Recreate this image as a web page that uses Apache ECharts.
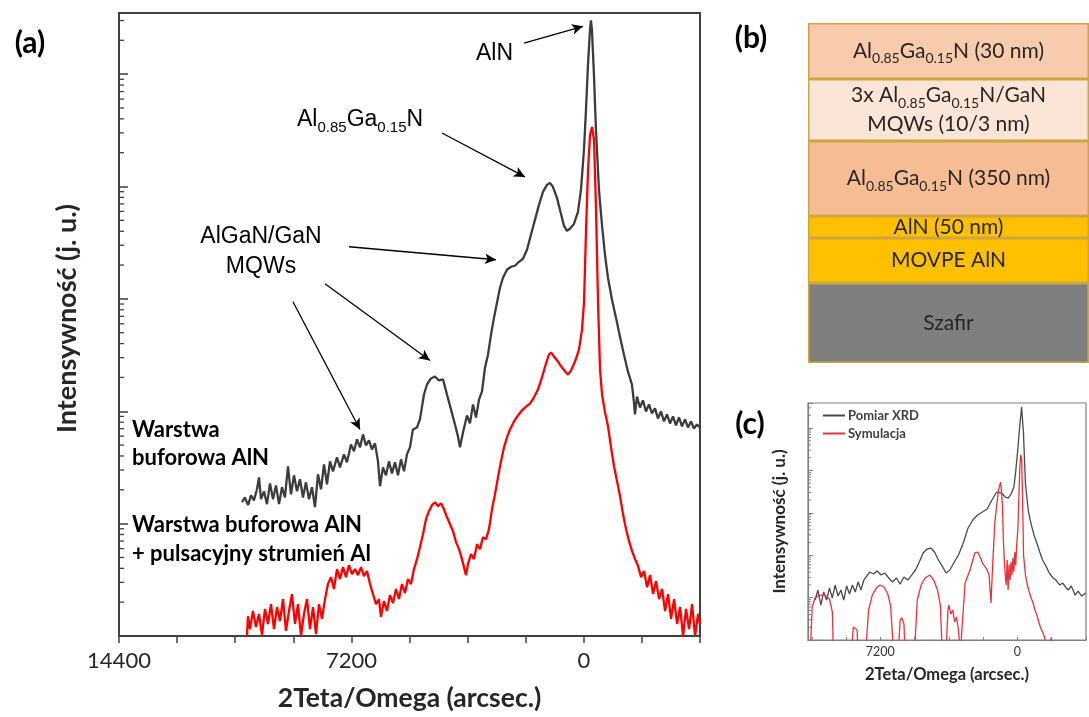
<!DOCTYPE html>
<html><head><meta charset="utf-8">
<script src="https://cdn.jsdelivr.net/npm/echarts@6/dist/echarts.min.js"></script>
<style>html,body{margin:0;padding:0;background:#fff}#c{width:1089px;height:717px}</style>
</head><body><div id="c"></div>
<script>
// ---------- (a) main XRD scans: 2Theta/Omega (arcsec) vs intensity (a.u., log) ----------
const blackX = [10590,10500,10400,10310,10220,10125,10063,10000,9908,9815,9722,9629,9536,9443,9350,9258,9165,9072,8979,8886,8793,8700,8607,8514,8421,8328,8235,8142,8049,7956,7863,7771,7647,7554,7430,7337,7213,7120,7027,6934,6841,6748,6655,6562,6469,6376,6314,6222,6129,6036,5943,5850,5757,5664,5571,5478,5386,5293,5169,5076,4951,4859,4735,4611,4487,4363,4239,4115,3991,3898,3836,3743,3619,3526,3433,3340,3247,3154,3061,2968,2875,2782,2690,2597,2504,2380,2256,2132,2008,1884,1760,1637,1513,1389,1265,1141,1049,956,832,707,615,522,429,305,181,88,-5,-67,-129,-191,-222,-253,-315,-377,-470,-563,-656,-749,-873,-997,-1121,-1245,-1369,-1492,-1554,-1585,-1647,-1740,-1833,-1926,-2019,-2112,-2205,-2298,-2391,-2484,-2577,-2670,-2763,-2856,-2949,-3042,-3135,-3228,-3321,-3413,-3506,-3599];
const blackY = [15.5,17.1,14.6,17.9,16.1,20.2,25.8,16.5,19.4,14.9,22.8,16.5,21.9,14.9,21.1,17.1,32.3,18.2,26.9,19.4,24.8,17.1,23.3,16.5,21.1,14.0,27.5,20.2,33.7,22.4,35.8,29.2,38.9,31.7,41.3,35.1,50.7,44.0,56.2,47.7,62.2,49.7,55.0,45.8,51.8,35.8,21.5,31.7,26.9,35.8,28.0,35.1,26.9,37.3,29.2,41.3,47.7,68.9,71.8,84.6,141,173,196,204,188,192,141,104,76.3,59.7,47.7,64.8,91.8,77.9,115,88.1,127,150,245,319,481,681,925,1257,1543,1817,1932,1972,2138,2275,2735,3717,5050,6866,8954,10330,10770,9916,7924,5715,4467,4035,4201,4652,5945,9334,21130,47870,120200,246000,301700,246000,97950,31840,9334,4560,2470,1543,984,681,461,319,225,173,120,93.7,135,108,125,99.6,115,95.6,106,86.3,99.6,81.2,93.7,77.9,89.9,74.8,88.1,73.3,84.6,71.8,81.2,70.3,76.3,71.8];
const redX = [10435,10404,10342,10249,10156,10063,9970,9877,9784,9691,9598,9505,9413,9320,9227,9134,9041,8948,8855,8762,8669,8576,8483,8390,8297,8204,8111,8018,7926,7833,7740,7647,7554,7461,7368,7275,7182,7089,6996,6903,6810,6717,6624,6531,6439,6346,6284,6191,6098,6005,5912,5819,5726,5633,5540,5447,5354,5261,5168,5076,4983,4890,4797,4704,4611,4518,4425,4332,4239,4145,4052,3959,3866,3773,3712,3650,3588,3495,3402,3309,3217,3124,3031,2938,2845,2752,2659,2566,2473,2380,2287,2163,2039,1915,1791,1667,1543,1420,1296,1172,1079,1017,924,800,676,552,490,397,273,149,56,-6,-69,-131,-193,-255,-317,-379,-441,-503,-565,-658,-751,-844,-937,-1030,-1123,-1216,-1309,-1402,-1495,-1588,-1681,-1774,-1867,-1960,-2053,-2146,-2239,-2332,-2425,-2518,-2611,-2704,-2797,-2889,-2982,-3075,-3168,-3261,-3354,-3447,-3540,-3600];
const redY = [1.0,1.50,1.15,1.67,1.20,1.57,1.02,1.74,1.28,1.92,1.15,1.81,1.36,2.13,1.11,1.67,2.36,1.28,1.92,1.0,1.57,2.13,1.15,1.81,1.04,1.92,1.42,2.13,
2.90,3.34,2.62,3.94,3.21,4.10,3.34,4.27,3.55,3.94,3.48,4.10,3.41,3.78,2.90,2.36,1.92,2.13,
1.48,2.05,1.67,2.31,1.96,2.62,2.13,2.90,2.41,3.21,
2.90,3.94,4.83,6.17,8.05,10.9,12.9,14.6,15.5,14.3,15.2,13.4,11.4,9.88,8.56,6.84,5.93,4.83,
4.10,3.48,4.36,
5.35,4.83,6.56,5.93,7.57,7.27,8.92,13.4,18.2,25.8,35.8,47.7,58.5,68.9,
81.2,91.8,102,110,117,133,156,200,266,
320,333,307,277,245,221,212,230,277,354,533,925,
4118,14050,28730,33830,25930,6197,925,235,141,
97.6,73.3,47.7,32.3,23.8,17.5,12.1,8.92,6.98,5.69,4.83,4.19,3.34,3.78,2.72,3.48,2.36,3.08,2.13,2.62,1.67,2.36,1.42,2.13,1.28,1.81,1.0,1.74,1.15,1.92,1.0,1.57,1.28];
const mainTickLabels = [14400, 7200, 0];

// annotation arrows in data units [[fromX, fromY], [toX, toY]]
const arrows = [
  [[1853, 188400], [26, 266700]],
  [[4394, 29920], [1822, 12170]],
  [[7275, 2910], [2721, 2229]],
  [[8018, 1365], [4766, 283]],
  [[9010, 944], [6934, 68.9]]
];

// ---------- (b) layer stack, top to bottom ----------
const layerNames = ['Al0.85Ga0.15N (30 nm)', '3x Al0.85Ga0.15N/GaN\nMQWs (10/3 nm)', 'Al0.85Ga0.15N (350 nm)', 'AlN (50 nm)', 'MOVPE AlN', 'Szafir'];
const layerHeights = [56, 62, 75, 22, 45, 80];
const layerColors = ['#f8cbad', '#fbe5d6', '#f6bd95', '#ffc000', '#ffc000', '#7f7f7f'];

// ---------- (c) inset: measurement vs simulation ----------
const xrdX = [10627,10477,10326,10175,10025,9874,9724,9573,9422,9272,9121,8970,8820,8669,8519,8368,8217,8067,7916,7766,7565,7364,7163,6962,6762,6561,6360,6159,5958,5758,5557,5356,5155,4954,4754,4553,4352,4151,3950,3750,3549,3348,3097,2846,2595,2344,2093,1842,1591,1340,1089,838,637,487,336,186,85,-15,-116,-216,-316,-417,-567,-668,-869,-1019,-1170,-1320,-1521,-1672,-1873,-2023,-2224,-2375,-2525,-2676,-2826,-3027,-3178,-3379,-3579];
const xrdY = [8.78,15.1,6.69,13.6,8.78,16.8,9.79,19.8,10.9,15.1,8.78,18.8,12.2,19.8,13.6,23.3,15.1,26.0,32.3,40.1,36.0,42.4,34.1,38.0,29.0,23.3,29.0,20.9,30.6,26.0,34.1,44.8,69.2,113,140,148,119,77.1,55.6,38.0,44.8,65.5,101,194,438,676,887,1045,1230,2004,3097,2931,2358,2234,2775,4058,10210,30270,105600,312800,76210,5047,1165,676,299,194,119,77.1,52.7,38.0,29.0,26.0,19.8,22.1,17.8,15.1,18.8,11.5,14.3,10.9,12.8];
const simX = [10880,10780,10630,10380,10130,9870,9720,9670,8720,8620,8520,8420,8370,7970,7820,7620,7410,7220,7010,6810,6660,6510,6260,6160,6060,5960,5910,5410,5260,5060,4850,4600,4400,4200,4050,3950,3750,3650,3600,3500,3400,3300,3200,3100,3000,2950,2750,2490,2240,2090,1940,1840,1690,1590,1490,1390,1290,1190,1090,990,890,840,790,740,690,640,590,540,490,440,390,340,290,240,190,140,90,40,-20,-70,-120,-170,-220,-270,-320,-420,-520,-620,-720,-820,-920,-1020,-1120,-1220,-1320,-1420,-1520,-1780,-1880];
const simY = [0.5,6.0,9.79,11.5,11.5,9.27,4.57,0.5,0.5,2.03,2.26,1.72,0.5,0.5,5.1,11.5,16.8,19.8,17.8,12.2,6.34,0.5,0.5,2.96,3.30,2.38,0.5,0.5,8.78,19.8,29.0,34.1,26.0,15.1,6.69,0.5,0.5,5.1,6.69,4.1,5.1,2.66,3.49,1.72,0.5,0.5,22.1,44.8,113,119,85.9,65.5,52.7,44.8,34.1,7.46,77.1,574,1528,3451,5325,3451,1528,228,77.1,34.1,19.8,77.1,15.1,58.7,26.0,69.2,34.1,85.9,40.1,119,58.7,174,393,2004,10210,23070,19590,2004,101,34.1,19.8,13.6,9.79,7.46,5.1,3.89,2.66,1.92,1.54,1.18,0.5,1.11,0.5];
const insetTickLabels = [7200, 0];
const seriesNames = ['Pomiar XRD', 'Symulacja'];

// ---------- helpers ----------
function zip(a, b) { const n = Math.min(a.length, b.length); const r = []; for (let i = 0; i < n; i++) r.push([a[i], b[i]]); return r; }
function logMinorTicks(maxV) { const r = []; for (let d = 0; d < 7; d++) for (let k = 2; k < 10; k++) { const v = k * Math.pow(10, d); if (v < maxV) r.push(v); } return r; }
function richSub(s) { return s.split('\n').map(l => '{n|' + l.replace(/(0\.\d\d)/g, '}{s|$1}{n|') + '}').join('\n'); }

const MAIN_MAX = 350000, INSET_MAX = 390000;
const AX = '#404040';
const CAL = 'Lato';
const ARIAL = '"Liberation Sans", Arial';

const chart = echarts.init(document.getElementById('c'), null, { renderer: 'canvas' });

function tickSeries(xi, yi, xEdge, maxV, len, color, width) {
  return {
    type: 'custom', xAxisIndex: xi, yAxisIndex: yi, silent: true, z: 5,
    data: logMinorTicks(maxV).map(v => [xEdge, v]),
    renderItem: function (params, api) {
      const p = api.coord([api.value(0), api.value(1)]);
      return { type: 'line', shape: { x1: p[0], y1: p[1], x2: p[0] + len, y2: p[1] }, style: { stroke: color, lineWidth: width } };
    }
  };
}

const layerSeries = [];
for (let i = layerNames.length - 1; i >= 0; i--) {
  const txt = richSub(layerNames[i]);
  layerSeries.push({
    type: 'bar', xAxisIndex: 1, yAxisIndex: 1, stack: 'layers', barWidth: '100%', silent: true,
    data: [layerHeights[i]],
    itemStyle: { color: layerColors[i], borderColor: '#cfa544', borderWidth: 1.5 },
    label: {
      show: true, position: 'inside', formatter: function () { return txt; },
      rich: {
        n: { fontFamily: CAL, fontSize: 21, color: '#262626', lineHeight: 29 },
        s: { fontFamily: CAL, fontSize: 14, color: '#262626', lineHeight: 17, verticalAlign: 'bottom' }
      }
    }
  });
}

const option = {
  animation: false,
  backgroundColor: '#ffffff',
  grid: [
    { left: 119, top: 13, width: 581, height: 624, show: true, borderColor: AX, borderWidth: 2, backgroundColor: 'transparent' },
    { left: 808, top: 23, width: 294, height: 340 },
    { left: 808, top: 403, width: 291, height: 237, show: true, borderColor: '#808080', borderWidth: 1.2, backgroundColor: 'transparent' }
  ],
  xAxis: [
    {
      gridIndex: 0, type: 'value', min: -3600, max: 14400, interval: 1800, inverse: true,
      axisLine: { show: true, onZero: false, lineStyle: { color: AX, width: 2 } },
      axisTick: { show: true, inside: false, length: 7, lineStyle: { color: AX, width: 1.5 } },
      axisLabel: { show: true, margin: 14, fontFamily: CAL, fontSize: 22, color: '#262626', showMinLabel: true, showMaxLabel: true,
        formatter: v => mainTickLabels.indexOf(v) >= 0 ? String(v) : '' },
      splitLine: { show: false },
      name: '2Teta/Omega (arcsec.)', nameLocation: 'middle', nameGap: 49,
      nameTextStyle: { fontFamily: CAL, fontWeight: 'bold', fontSize: 26.5, color: '#262626' }
    },
    { gridIndex: 1, type: 'category', data: ['stos'], show: false },
    {
      gridIndex: 2, type: 'value', min: -3600, max: 11000, interval: 1800, inverse: true,
      axisLine: { show: true, onZero: false, lineStyle: { color: '#808080', width: 1.2 } },
      axisTick: { show: true, inside: true, length: 3, lineStyle: { color: '#808080', width: 1 } },
      axisLabel: { show: true, margin: 5, fontFamily: CAL, fontSize: 12.5, color: '#333',
        formatter: v => insetTickLabels.indexOf(v) >= 0 ? String(v) : '' },
      splitLine: { show: false },
      name: '2Teta/Omega (arcsec.)', nameLocation: 'middle', nameGap: 26,
      nameTextStyle: { fontFamily: CAL, fontWeight: 'bold', fontSize: 16.5, color: '#262626' }
    }
  ],
  yAxis: [
    {
      gridIndex: 0, type: 'log', logBase: 10, min: 1, max: MAIN_MAX,
      axisLine: { show: true, onZero: false, lineStyle: { color: AX, width: 2 } },
      axisTick: { show: true, inside: true, length: 9, lineStyle: { color: AX, width: 1.5 } },
      axisLabel: { show: false }, splitLine: { show: false },
      name: 'Intensywność (j. u.)', nameLocation: 'middle', nameGap: 38,
      nameTextStyle: { fontFamily: CAL, fontWeight: 'bold', fontSize: 27, color: '#262626', padding: [0, 0, 0, 12] }
    },
    { gridIndex: 1, type: 'value', min: 0, max: 340, show: false },
    {
      gridIndex: 2, type: 'log', logBase: 10, min: 1, max: INSET_MAX,
      axisLine: { show: true, onZero: false, lineStyle: { color: '#808080', width: 1.2 } },
      axisTick: { show: true, inside: true, length: 5, lineStyle: { color: '#808080', width: 1 } },
      axisLabel: { show: false }, splitLine: { show: false },
      name: 'Intensywność (j. u.)', nameLocation: 'middle', nameGap: 20,
      nameTextStyle: { fontFamily: CAL, fontWeight: 'bold', fontSize: 17, color: '#262626' }
    }
  ],
  legend: {
    data: seriesNames, left: 823, top: 409, orient: 'vertical', icon: 'rect', itemWidth: 22, itemHeight: 2, itemGap: 5,
    padding: 0, selectedMode: false,
    textStyle: { fontFamily: CAL, fontWeight: 'bold', fontSize: 13, color: '#404040', padding: [0, 0, 0, -2] }
  },
  series: [
    {
      type: 'line', xAxisIndex: 0, yAxisIndex: 0, data: zip(blackX, blackY), symbol: 'none', z: 3,
      lineStyle: { color: '#3c3c3c', width: 2.3 }, itemStyle: { color: '#3c3c3c' },
      markLine: {
        silent: true, symbol: ['none', 'arrow'], symbolSize: [8, 11], animation: false,
        lineStyle: { color: '#000', width: 1.3, type: 'solid' }, label: { show: false }, emphasis: { disabled: true },
        data: arrows.map(a => [{ coord: a[0] }, { coord: a[1] }])
      }
    },
    {
      type: 'line', xAxisIndex: 0, yAxisIndex: 0, data: zip(redX, redY), symbol: 'none', z: 4,
      lineStyle: { color: '#ff0000', width: 2.3 }, itemStyle: { color: '#ff0000' }
    },
    tickSeries(0, 0, 14400, MAIN_MAX, 5, AX, 1.3),
    ...layerSeries,
    {
      name: seriesNames[0], type: 'line', xAxisIndex: 2, yAxisIndex: 2, data: zip(xrdX, xrdY), symbol: 'none', z: 3,
      lineStyle: { color: '#4a4a4a', width: 1.3 }, itemStyle: { color: '#4a4a4a' }
    },
    {
      name: seriesNames[1], type: 'line', xAxisIndex: 2, yAxisIndex: 2, data: zip(simX, simY), symbol: 'none', z: 4,
      lineStyle: { color: '#e8333a', width: 1.3 }, itemStyle: { color: '#e8333a' }
    },
    tickSeries(2, 2, 11000, INSET_MAX, 3, '#808080', 1)
  ],
  graphic: [
    { type: 'text', x: 30, y: 43, style: { text: '(a)', fontFamily: CAL, fontWeight: 'bold', fontSize: 30, fill: '#000', align: 'center', verticalAlign: 'middle' } },
    { type: 'text', x: 751, y: 38, style: { text: '(b)', fontFamily: CAL, fontWeight: 'bold', fontSize: 30, fill: '#000', align: 'center', verticalAlign: 'middle' } },
    { type: 'text', x: 750, y: 424, style: { text: '(c)', fontFamily: CAL, fontWeight: 'bold', fontSize: 30, fill: '#000', align: 'center', verticalAlign: 'middle' } },
    { type: 'text', x: 476, y: 54, z: 10, style: { text: 'AlN', fontFamily: ARIAL, fontSize: 23, fill: '#000', align: 'left', verticalAlign: 'middle' } },
    { type: 'text', x: 297, y: 120, z: 10, style: { text: '{n|Al}{s|0.85}{n|Ga}{s|0.15}{n|N}', align: 'left', verticalAlign: 'middle',
        rich: { n: { fontFamily: ARIAL, fontSize: 23, fill: '#000', color: '#000', lineHeight: 30 },
                s: { fontFamily: ARIAL, fontSize: 15, fill: '#000', color: '#000', lineHeight: 19, verticalAlign: 'bottom' } } } },
    { type: 'text', x: 261, y: 252, z: 10, style: { text: 'AlGaN/GaN\nMQWs', fontFamily: ARIAL, fontSize: 23, lineHeight: 30, fill: '#000', align: 'center', verticalAlign: 'middle' } },
    { type: 'text', x: 132, y: 444, z: 10, style: { text: 'Warstwa\nbuforowa AlN', fontFamily: CAL, fontWeight: 'bold', fontSize: 22, lineHeight: 28, fill: '#000', align: 'left', verticalAlign: 'middle' } },
    { type: 'text', x: 132, y: 539, z: 10, style: { text: 'Warstwa buforowa AlN\n+ pulsacyjny strumień Al', fontFamily: CAL, fontWeight: 'bold', fontSize: 22, lineHeight: 29, fill: '#000', align: 'left', verticalAlign: 'middle' } }
  ]
};
chart.setOption(option);
</script>
</body></html>
